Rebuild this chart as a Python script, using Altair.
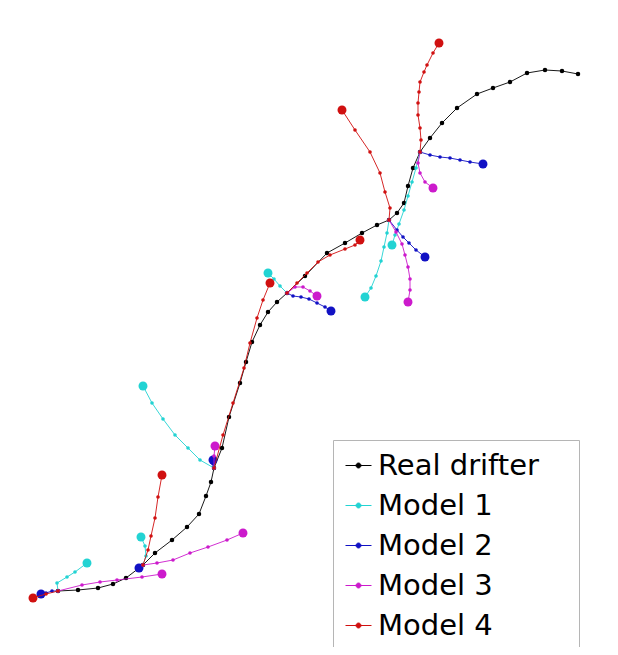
import altair as alt
import pandas as pd

# ---- data (pixel-space coordinates) ----
series_names = ["Real drifter", "Model 1", "Model 2", "Model 3", "Model 4"]
series_colors = ["#000000", "#22d3d3", "#1111c4", "#cc1acc", "#d01010"]

drifter_x = [58, 78, 98, 113, 126, 143, 155, 172, 187, 199, 206, 211, 214, 222, 229, 240, 246, 252, 260, 268, 277, 287,
             305, 327, 345, 362, 377, 389, 397, 404, 408, 413, 420, 430, 442, 457, 477, 493, 510, 527, 545, 562, 578]
drifter_y = [591, 590, 588, 584, 578, 565, 553, 540, 527, 514, 496, 482, 468, 448, 417, 383, 362, 342, 325, 312, 302, 293,
             276, 253, 243, 233, 225, 220, 213, 203, 186, 168, 152, 138, 123, 108, 94, 88, 82, 73, 70, 71, 74]

model1_tracks = [
    [(58, 591), (57, 583), (67, 577), (75, 572), (87, 563)],
    [(143, 565), (146, 556), (145, 546), (141, 537)],
    [(214, 468), (200, 460), (188, 448), (175, 435), (163, 419), (152, 403), (143, 386)],
    [(287, 293), (280, 286), (274, 279), (268, 273)],
    [(389, 220), (387, 233), (384, 247), (381, 261), (376, 276), (371, 288), (365, 297)],
    [(420, 152), (416, 168), (412, 182), (408, 196), (404, 210), (399, 224), (395, 235), (392, 245)],
]
model2_tracks = [
    [(58, 591), (52, 591), (46, 593), (41, 594)],
    [(143, 565), (139, 568)],
    [(214, 468), (213, 464), (213, 460)],
    [(287, 293), (293, 296), (301, 297), (309, 299), (317, 303), (325, 307), (331, 311)],
    [(389, 220), (397, 230), (403, 237), (409, 243), (416, 250), (425, 257)],
    [(420, 152), (430, 155), (440, 157), (450, 158), (460, 160), (470, 162), (483, 164)],
]
model3_tracks = [
    [(58, 591), (82, 585), (100, 582), (117, 580), (142, 577), (162, 574)],
    [(143, 565), (157, 563), (173, 560), (190, 553), (208, 547), (227, 540), (243, 533)],
    [(214, 468), (214, 456), (215, 446)],
    [(287, 293), (295, 287), (303, 287), (310, 291), (317, 296)],
    [(389, 220), (396, 232), (402, 244), (405, 255), (408, 267), (410, 279), (410, 290), (408, 302)],
    [(420, 152), (418, 163), (420, 173), (425, 182), (433, 188)],
]
model4_tracks = [
    [(58, 591), (46, 594), (33, 598)],
    [(143, 565), (148, 550), (151, 536), (155, 518), (158, 497), (162, 475)],
    [(214, 468), (223, 435), (233, 403), (244, 368), (250, 343), (257, 318), (263, 300), (270, 283)],
    [(287, 293), (297, 283), (307, 273), (318, 262), (330, 255), (345, 249), (355, 245), (360, 240)],
    [(389, 220), (390, 208), (385, 192), (380, 173), (370, 152), (355, 130), (342, 110)],
    [(420, 152), (421, 140), (420, 128), (418, 115), (418, 103), (419, 92), (420, 82), (424, 72),
     (427, 65), (433, 53), (439, 43)],
]

# ---- build long table ----
rows = []
for i, (x, y) in enumerate(zip(drifter_x, drifter_y)):
    rows.append(dict(series="Real drifter", track="d", idx=i, x=x, y=y, end=False))
for name, tracks in zip(series_names[1:], [model1_tracks, model2_tracks, model3_tracks, model4_tracks]):
    for t, tr in enumerate(tracks):
        for i, (x, y) in enumerate(tr):
            rows.append(dict(series=name, track=f"{name}-{t}", idx=i, x=x, y=y, end=(i == len(tr) - 1)))
df = pd.DataFrame(rows)

W, H = 602, 639
xs = alt.Scale(domain=[8, 8 + W], nice=False, zero=False)
ys = alt.Scale(domain=[8, 8 + H], nice=False, zero=False, reverse=True)

sym_path = "M-0.684,0L0.684,0M0.13,0A0.13,0.13,0,1,1,-0.13,0A0.13,0.13,0,1,1,0.13,0Z"
legend = alt.Legend(
    title=None, orient="none", legendX=325, legendY=432,
    symbolType=sym_path, symbolSize=1444, symbolStrokeWidth=1, symbolOpacity=1,
    labelFont="DejaVu Sans", labelFontSize=29, labelColor="black", labelOffset=0,
    labelLimit=400,
    labelExpr="datum.label + '\u00a0\u00a0\u00a0\u2009\u200b'", rowPadding=5, padding=6,
    strokeColor="#b5b5b5", fillColor="white", cornerRadius=0,
)
color = alt.Color("series:N", scale=alt.Scale(domain=series_names, range=series_colors), legend=legend)

base = alt.Chart(df).encode(
    x=alt.X("x:Q", scale=xs, axis=None),
    y=alt.Y("y:Q", scale=ys, axis=None),
    color=color,
)

layers = []
for name in series_names:
    sub = base.transform_filter(alt.datum.series == name)
    small = 20 if name == "Real drifter" else 13
    layers.append(sub.mark_line(strokeWidth=1, opacity=0.9).encode(detail="track:N", order="idx:Q"))
    layers.append(sub.mark_circle(size=small, opacity=1))
    if name != "Real drifter":
        layers.append(sub.transform_filter(alt.datum.end).mark_circle(size=80, opacity=1))

chart = alt.layer(*layers).properties(
    width=W, height=H, padding=0, autosize=alt.AutoSizeParams(type="none"),
    background="white",
).configure_view(stroke=None)

chart.save("out.html", embed_options={"renderer": "svg", "actions": False})
